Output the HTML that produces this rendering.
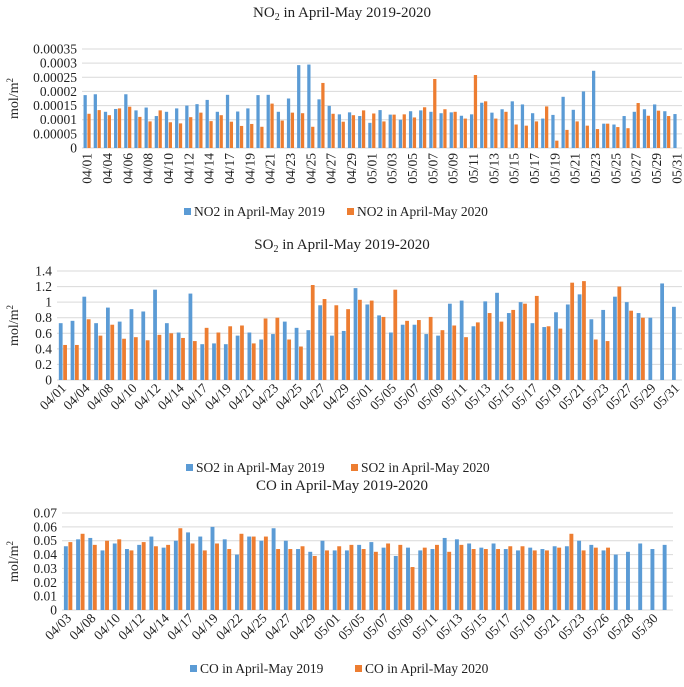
<!DOCTYPE html>
<html><head><meta charset="utf-8"><style>
html,body{margin:0;padding:0;background:#fff;}
svg{display:block;font-family:"Liberation Serif",serif;}
</style></head><body>
<svg id="root" width="684" height="687" viewBox="0 0 684 687"></svg>
<script>
// ---- NO2 data ----
const no2Labels = ["04/01","04/03","04/04","04/05","04/06","04/07","04/08","04/09","04/10","04/11","04/12","04/13","04/14","04/16","04/17","04/18","04/19","04/20","04/21","04/22","04/23","04/24","04/25","04/26","04/27","04/28","04/29","04/30","05/01","05/02","05/03","05/04","05/05","05/06","05/07","05/08","05/09","05/10","05/11","05/12","05/13","05/14","05/15","05/16","05/17","05/18","05/19","05/20","05/21","05/22","05/23","05/24","05/25","05/26","05/27","05/28","05/29","05/30","05/31"];
const no2_2019 = [0.000187,0.00019,0.000128,0.000138,0.00019,0.000133,0.000143,0.000113,0.000128,0.00014,0.00015,0.000155,0.00017,0.000128,0.000188,0.000129,0.00014,0.000187,0.000188,0.000128,0.000175,0.000293,0.000295,0.000172,0.000149,0.000119,0.000126,0.000113,0.000089,0.000134,0.000118,0.0001,0.00013,0.000133,0.000128,0.000123,0.000126,0.000114,0.000119,0.00016,0.000125,0.000137,0.000165,0.000154,0.000123,0.000104,0.000117,0.000181,0.000135,0.0002,0.000273,0.000086,0.000083,0.000113,0.000128,0.000137,0.000154,0.00013,0.00012];
const no2_2020 = [0.000121,0.000134,0.000116,0.00014,0.000146,0.00011,0.000094,0.000133,0.000091,0.000087,0.000109,0.000125,0.000095,0.000116,0.000093,0.000078,0.000085,0.000075,0.000157,0.000097,0.000125,0.000123,0.000075,0.00023,0.000121,0.000093,0.000116,0.000133,0.000122,0.000094,0.000118,0.000119,0.000108,0.000144,0.000244,0.000137,0.000128,0.000104,0.000258,0.000165,0.000104,0.000128,0.000083,0.000079,0.000094,0.000147,0.000026,0.000064,0.000094,0.000079,0.000067,0.000086,0.000074,0.00007,0.000159,0.000114,0.000132,0.000113,null];
const no2Ticks = ["0","0.00005","0.0001","0.00015","0.0002","0.00025","0.0003","0.00035"];
// ---- SO2 data ----
const so2Labels = ["04/01","04/03","04/04","04/06","04/08","04/09","04/10","04/11","04/12","04/13","04/14","04/16","04/17","04/18","04/19","04/20","04/21","04/22","04/23","04/24","04/25","04/26","04/27","04/28","04/29","04/30","05/01","05/04","05/05","05/06","05/07","05/08","05/09","05/10","05/11","05/12","05/13","05/14","05/15","05/16","05/17","05/18","05/19","05/20","05/21","05/22","05/23","05/26","05/27","05/28","05/29","05/30","05/31"];
const so2_2019 = [0.73,0.76,1.07,0.73,0.93,0.75,0.91,0.88,1.16,0.73,0.61,1.11,0.46,0.47,0.46,0.57,0.61,0.52,0.59,0.75,0.67,0.64,0.96,0.57,0.63,1.18,0.97,0.83,0.61,0.71,0.71,0.59,0.57,0.98,1.02,0.69,1.01,1.12,0.86,1.00,0.73,0.68,0.87,0.97,1.10,0.78,0.90,1.07,1.00,0.86,0.80,1.24,0.94];
const so2_2020 = [0.45,0.45,0.78,0.57,0.71,0.53,0.55,0.51,0.58,0.60,0.54,0.50,0.67,0.61,0.69,0.70,0.47,0.79,0.80,0.52,0.43,1.22,1.04,0.96,0.91,1.03,1.02,0.81,1.16,0.76,0.77,0.81,0.64,0.70,0.55,0.74,0.86,0.75,0.90,0.98,1.08,0.69,0.66,1.25,1.27,0.52,0.50,1.20,0.89,0.80,null,null,null];
const so2Ticks = ["0","0.2","0.4","0.6","0.8","1","1.2","1.4"];
// ---- CO data ----
const coLabels = ["04/03","04/07","04/08","04/09","04/10","04/11","04/12","04/13","04/14","04/16","04/17","04/18","04/19","04/20","04/22","04/24","04/25","04/26","04/27","04/28","04/29","04/30","05/01","05/04","05/05","05/06","05/07","05/08","05/09","05/10","05/11","05/12","05/13","05/14","05/15","05/16","05/17","05/18","05/19","05/20","05/21","05/22","05/23","05/25","05/26","05/27","05/28","05/29","05/30","05/31"];
const co_2019 = [0.046,0.051,0.052,0.043,0.048,0.044,0.047,0.053,0.045,0.050,0.056,0.053,0.060,0.051,0.040,0.053,0.050,0.059,0.050,0.044,0.042,0.050,0.043,0.043,0.047,0.049,0.045,0.039,0.045,0.043,0.044,0.052,0.051,0.048,0.045,0.048,0.044,0.043,0.045,0.044,0.046,0.046,0.050,0.047,0.043,0.040,0.042,0.048,0.044,0.047];
const co_2020 = [0.049,0.055,0.047,0.050,0.051,0.043,0.049,0.046,0.047,0.059,0.048,0.043,0.048,0.044,0.055,0.053,0.053,0.044,0.044,0.046,0.039,0.043,0.046,0.047,0.044,0.042,0.048,0.047,0.031,0.045,0.047,0.042,0.047,0.044,0.044,0.044,0.046,0.046,0.043,0.043,0.045,0.055,0.043,0.045,0.045,null,null,null,null,null];
const coTicks = ["0","0.01","0.02","0.03","0.04","0.05","0.06","0.07"];

const NS="http://www.w3.org/2000/svg";
const root=document.getElementById('root');
function mk(tag,attrs,parent,text){const e=document.createElementNS(NS,tag);for(const k in attrs)e.setAttribute(k,attrs[k]);if(text!==undefined)e.textContent=text;(parent||root).appendChild(e);return e;}

function drawChart(cfg){
  const g=mk('g',{});
  
  
  const t=mk('text',{x:342,y:cfg.titleY,'text-anchor':'middle','font-size':15,fill:'#222'},g);
  
  
  if(cfg.titleSub){
    mk('tspan',{},t,cfg.titlePre);
    mk('tspan',{'font-size':10,dy:3},t,cfg.titleSub);
    mk('tspan',{dy:-3},t,cfg.titlePost);
  } else {
    t.textContent=cfg.titlePre+cfg.titlePost;
  }
  const n=cfg.ticks.length-1;
  const y=v=>cfg.y0-(v/cfg.max)*(cfg.y0-cfg.yTop);
  cfg.ticks.forEach((lab,i)=>{
    const v=cfg.max*i/n, yy=y(v);
    const gl=mk('line',{x1:cfg.x0,x2:cfg.x1,y1:yy,y2:yy,stroke:'#d9d9d9','stroke-width':1},g);
    
    
    const tl=mk('text',{x:cfg.x0-5,y:yy+4.5,'text-anchor':'end','font-size':13.5,fill:'#222'},g,lab);
    
    
  });
  const yl=mk('text',{x:0,y:0,'text-anchor':'middle','font-size':14,fill:'#222',transform:`translate(18,${(cfg.y0+cfg.yTop)/2}) rotate(-90)`},g);
  
  
  mk('tspan',{},yl,'mol/m');mk('tspan',{'font-size':9,dy:-5},yl,'2');
  const N=cfg.labels.length, w=(cfg.x1-cfg.x0)/N, bw=w*0.32;
  for(let i=0;i<N;i++){
    const c=cfg.x0+w*(i+0.5);
    const a=cfg.s1[i], b=cfg.s2[i];
    if(a!=null){const r=mk('rect',{x:c-bw-0.3,y:y(a),width:bw,height:cfg.y0-y(a),fill:'#5B9BD5'},g);
      
      }
    if(b!=null){const r=mk('rect',{x:c+0.3,y:y(b),width:bw,height:cfg.y0-y(b),fill:'#ED7D31'},g);
      
      }
    if(i%2===0){
      let tx;
      if(cfg.rot===-90) tx=mk('text',{x:0,y:0,'text-anchor':'end','font-size':13.5,fill:'#222',transform:`translate(${c+4.5},${cfg.y0+5}) rotate(-90)`},g,cfg.labels[i]);
      else tx=mk('text',{x:0,y:0,'text-anchor':'end','font-size':13.5,fill:'#222',transform:`translate(${c+4},${cfg.y0+9}) rotate(-45)`},g,cfg.labels[i]);
      
      
    }
  }
  const l1=mk('rect',{x:cfg.legX1,y:cfg.legY-8,width:7,height:7,fill:'#5B9BD5'},g);
  
  
  const lt1=mk('text',{x:cfg.legX1+10,y:cfg.legY,'font-size':13.5,fill:'#222'},g,cfg.leg1);
  
  
  const l2=mk('rect',{x:cfg.legX2,y:cfg.legY-8,width:7,height:7,fill:'#ED7D31'},g);
  
  
  const lt2=mk('text',{x:cfg.legX2+10,y:cfg.legY,'font-size':13.5,fill:'#222'},g,cfg.leg2);
  
  
}

drawChart({id:'no2',titleY:17,titlePre:'NO',titleSub:'2',titlePost:' in April-May 2019-2020',
  labels:no2Labels,s1:no2_2019,s2:no2_2020,ticks:no2Ticks,max:0.00035,
  x0:82,x1:682,y0:148,yTop:49,rot:-90,legX1:184,legX2:347,legY:216,
  leg1:'NO2 in April-May 2019',leg2:'NO2 in April-May 2020'});
drawChart({id:'so2',titleY:249,titlePre:'SO',titleSub:'2',titlePost:' in April-May 2019-2020',
  labels:so2Labels,s1:so2_2019,s2:so2_2020,ticks:so2Ticks,max:1.4,
  x0:57,x1:682,y0:380,yTop:271,rot:-45,legX1:186,legX2:351,legY:472,
  leg1:'SO2 in April-May 2019',leg2:'SO2 in April-May 2020'});
drawChart({id:'co',titleY:490,titlePre:'CO',titleSub:'',titlePost:' in April-May 2019-2020',
  labels:coLabels,s1:co_2019,s2:co_2020,ticks:coTicks,max:0.07,
  x0:62,x1:673,y0:610,yTop:513,rot:-45,legX1:190,legX2:355,legY:673,
  leg1:'CO in April-May 2019',leg2:'CO in April-May 2020'});
</script>
</body></html>
